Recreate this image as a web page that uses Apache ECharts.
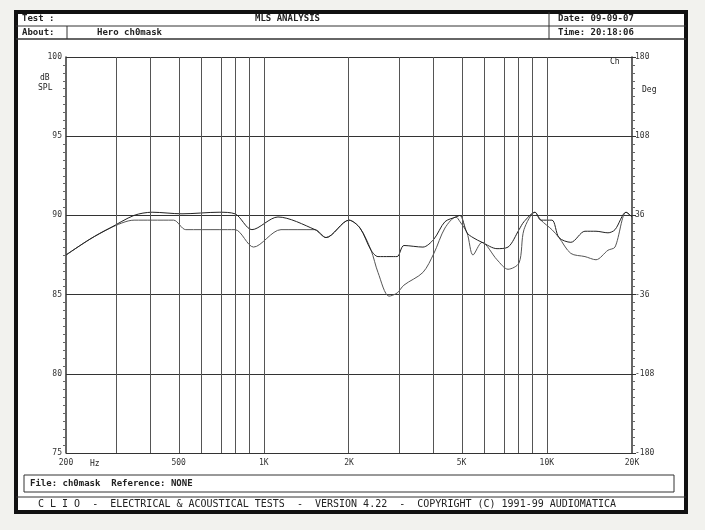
<!DOCTYPE html>
<html>
<head>
<meta charset="utf-8">
<script src="https://cdn.jsdelivr.net/npm/echarts@6/dist/echarts.min.js"></script>
<style>
  html, body { margin: 0; padding: 0; background: #f2f2ee; }
  #chart { width: 705px; height: 530px; }
</style>
</head>
<body>
<div id="chart"></div>
<script>
// curve data, frequency in Hz and level in dB SPL
var freqA = [200, 243, 286, 348, 403, 514, 695, 791, 908, 1122, 1517, 1659, 2000, 2188, 2393, 2532, 2770, 2958, 3128, 3650, 3990, 4365, 4776, 4935, 5225, 5484, 5902, 6669, 7294, 7979, 8304, 9082, 9531, 10425, 11040, 12160, 13640, 14920, 16450, 17420, 19060, 20000];
var dbA = [87.5, 88.5, 89.2, 90.0, 90.2, 90.1, 90.2, 90.1, 89.1, 89.9, 89.1, 88.6, 89.7, 89.2, 87.8, 87.4, 87.4, 87.4, 88.1, 88.0, 88.5, 89.6, 89.9, 90.0, 88.9, 88.6, 88.3, 87.9, 88.0, 89.1, 89.6, 90.2, 89.7, 89.7, 88.6, 88.3, 89.0, 89.0, 88.9, 89.1, 90.2, 89.9];
var freqB = [200, 243, 286, 348, 403, 480, 530, 695, 791, 920, 1150, 1517, 1659, 2000, 2188, 2393, 2532, 2770, 2958, 3128, 3650, 3990, 4365, 4776, 4935, 5225, 5484, 5902, 6669, 7294, 7979, 8304, 9082, 9531, 10425, 11040, 12160, 13640, 14920, 16450, 17420, 19060, 20000];
var dbB = [87.5, 88.5, 89.2, 89.7, 89.7, 89.7, 89.1, 89.1, 89.1, 88.0, 89.1, 89.1, 88.6, 89.7, 89.2, 87.8, 86.4, 84.9, 85.1, 85.6, 86.4, 87.6, 89.2, 89.9, 89.6, 88.9, 87.5, 88.3, 87.2, 86.6, 87.0, 89.1, 90.2, 89.7, 89.1, 88.6, 87.6, 87.4, 87.2, 87.8, 88.0, 90.2, 89.9];

var gridFreqs = [300, 400, 500, 600, 700, 800, 900, 1000, 2000, 3000, 4000, 5000, 6000, 7000, 8000, 9000, 10000];
var freqLabels = [200, 500, 1000, 2000, 5000, 10000, 20000];
var freqNames = ['200', '500', '1K', '2K', '5K', '10K', '20K'];
var dbLabels = ['75', '80', '85', '90', '95', '100'];
var degLabels = ['-180', '-108', '-36', '36', '108', '180'];

var FONT = 'DejaVu Sans Mono';

function lg(f) { return Math.log10(f); }
function pairs(fs, ds) {
	return fs.map(function(f, i){ return [lg(f), ds[i]]; });
}

var chart = echarts.init(document.getElementById('chart'));

var txt = function(x, y, s, opt){
	return { type:'text', left:x, top:y, style: Object.assign({ text:s, font:'bold 9px ' + FONT, fill:'#222' }, opt || {}) };
};

var option = {
	backgroundColor: '#f2f2ee',
	animation: false,
	grid: { left: 66, right: 73, top: 57, bottom: 77 },
	xAxis: {
		type: 'value',
		min: lg(200), max: lg(20000),
		axisLine: { show: false },
		axisTick: { show: false },
		splitLine: { show: false },
		axisLabel: {
			customValues: freqLabels.map(lg),
			fontFamily: FONT, fontSize: 8, color: '#333', margin: 6,
			formatter: function(v){
				var i = freqLabels.map(lg).findIndex(function(x){ return Math.abs(x - v) < 1e-6; });
				return i >= 0 ? freqNames[i] : '';
			}
		}
	},
	yAxis: [{
		type: 'value', min: 75, max: 100, interval: 5,
		axisLine: { show: true, lineStyle: { color: '#333', width: 1.5 } },
		axisTick: { show: false },
		minorTick: { show: true, splitNumber: 10, length: 3, lineStyle: { color: '#666' } },
		splitLine: { lineStyle: { color: '#333', width: 1.2 } },
		axisLabel: { fontFamily: FONT, fontSize: 8, color: '#333', margin: 4,
			formatter: function(v){ return dbLabels[(v - 75) / 5]; } }
	}, {
		type: 'value', min: 75, max: 100, interval: 5, position: 'right',
		axisLine: { show: true, lineStyle: { color: '#333', width: 1.5 } },
		axisTick: { show: true, length: 4, lineStyle: { color: '#333' } },
		minorTick: { show: true, splitNumber: 10, length: 3, inside: true, lineStyle: { color: '#666' } },
		splitLine: { show: false },
		axisLabel: { fontFamily: FONT, fontSize: 8, color: '#333', margin: 3,
			formatter: function(v){ return degLabels[(v - 75) / 5]; } }
	}],
	series: [{
		type: 'line',
		data: pairs(freqB, dbB),
		symbol: 'none',
		smooth: 0.3,
		lineStyle: { color: '#555', width: 1 },
		z: 3,
		markLine: {
			silent: true, symbol: 'none', label: { show: false },
			lineStyle: { color: '#555', width: 1, type: 'solid' },
			data: gridFreqs.map(function(f){ return { xAxis: lg(f) }; })
		}
	}, {
		type: 'line',
		data: pairs(freqA, dbA),
		symbol: 'none',
		smooth: 0.3,
		lineStyle: { color: '#222', width: 1 },
		z: 4
	}],
	graphic: [
		{ type:'rect', shape:{ x:16, y:12, width:670, height:500 }, style:{ fill:'#fff', stroke:'#111', lineWidth:4 }, z:-10 },
		{ type:'line', shape:{ x1:16, y1:26, x2:686, y2:26 }, style:{ stroke:'#333', lineWidth:1 } },
		{ type:'line', shape:{ x1:16, y1:39, x2:686, y2:39 }, style:{ stroke:'#333', lineWidth:1.5 } },
		{ type:'line', shape:{ x1:549, y1:12, x2:549, y2:39 }, style:{ stroke:'#333', lineWidth:1 } },
		{ type:'line', shape:{ x1:67, y1:26, x2:67, y2:39 }, style:{ stroke:'#333', lineWidth:1 } },
		{ type:'rect', shape:{ x:24, y:475, width:650, height:17 }, style:{ fill:'none', stroke:'#333', lineWidth:1 } },
		{ type:'line', shape:{ x1:16, y1:497, x2:686, y2:497 }, style:{ stroke:'#333', lineWidth:1 } },
		txt(22, 14, 'Test :'),
		txt(255, 14, 'MLS ANALYSIS'),
		txt(558, 14, 'Date: 09-09-07'),
		txt(22, 28, 'About:'),
		txt(97, 28, 'Hero ch0mask'),
		txt(558, 28, 'Time: 20:18:06'),
		txt(610, 58, 'Ch', { font:'8px ' + FONT }),
		txt(40, 74, 'dB', { font:'8px ' + FONT }),
		txt(38, 84, 'SPL', { font:'8px ' + FONT }),
		txt(642, 86, 'Deg', { font:'8px ' + FONT }),
		txt(90, 460, 'Hz', { font:'8px ' + FONT }),
		txt(30, 479, 'File: ch0mask  Reference: NONE'),
		txt(38, 499, 'C L I O  -  ELECTRICAL & ACOUSTICAL TESTS  -  VERSION 4.22  -  COPYRIGHT (C) 1991-99 AUDIOMATICA', { font:'10px ' + FONT })
	]
};

chart.setOption(option);
</script>
</body>
</html>
